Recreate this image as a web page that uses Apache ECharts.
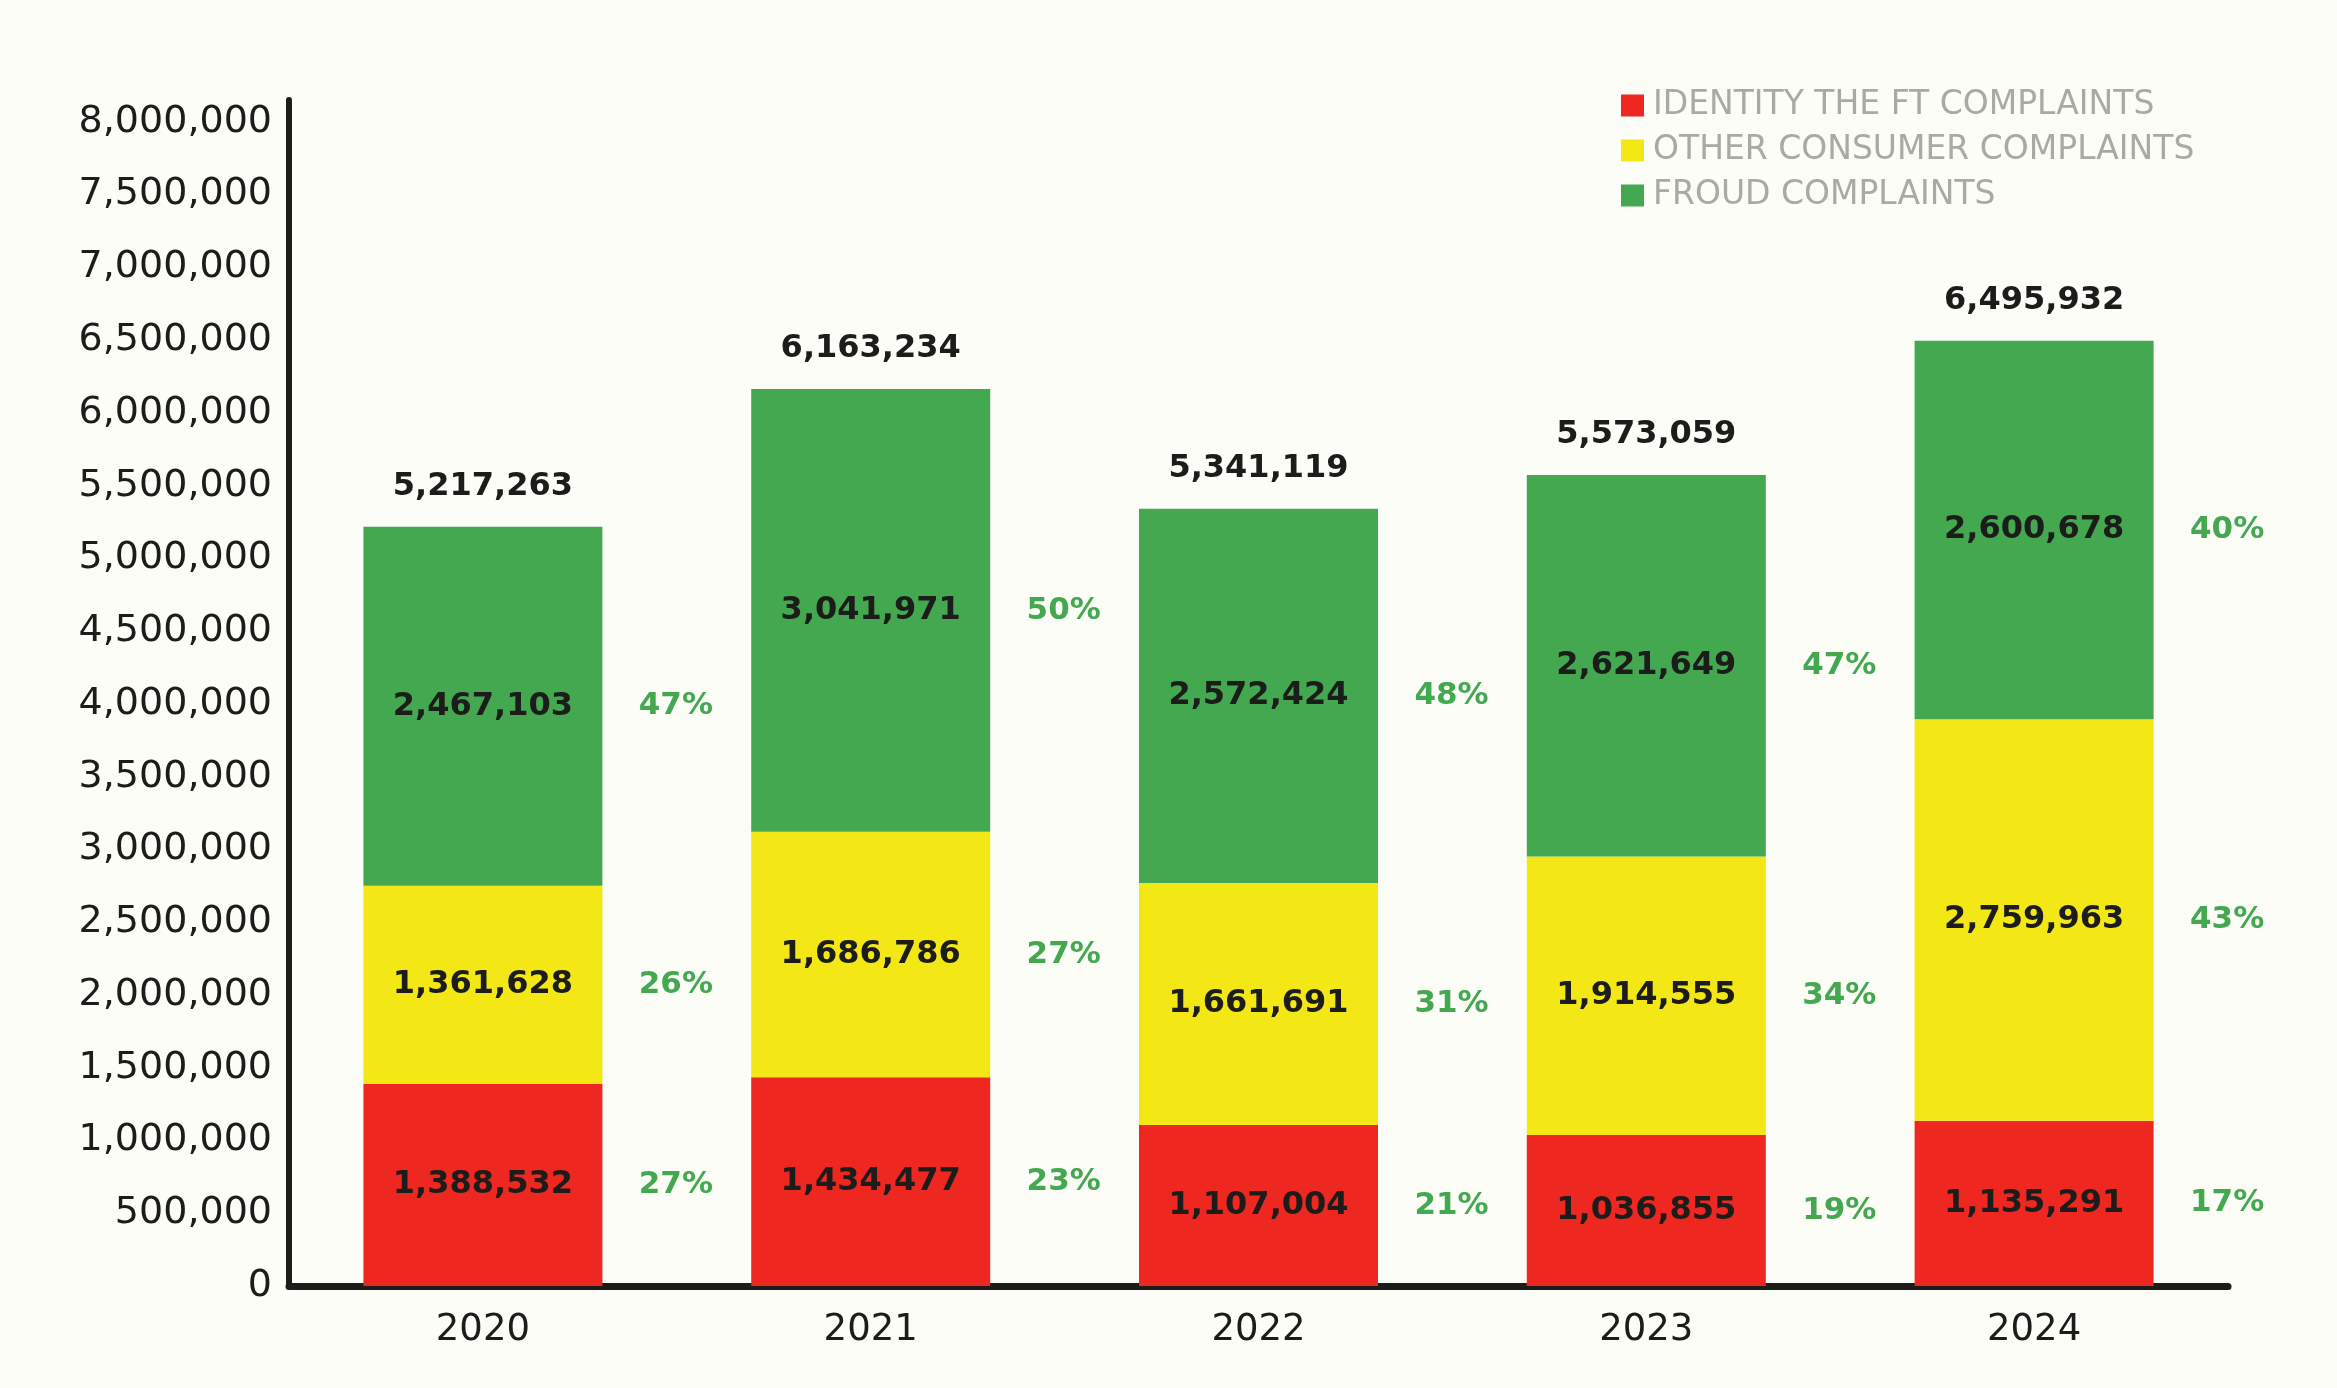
<!DOCTYPE html>
<html>
<head>
<meta charset="utf-8">
<script src="https://cdn.jsdelivr.net/npm/echarts@6/dist/echarts.min.js"></script>
<style>
html,body{margin:0;padding:0;background:#fdfdf8;}
#chart{width:2337px;height:1388px;}
</style>
</head>
<body>
<div id="chart"></div>
<script>
const years = ['2020', '2021', '2022', '2023', '2024'];
const identityTheft = [1388532, 1434477, 1107004, 1036855, 1135291];
const otherConsumer = [1361628, 1686786, 1661691, 1914555, 2759963];
const fraud = [2467103, 3041971, 2572424, 2621649, 2600678];
const totals = [5217263, 6163234, 5341119, 5573059, 6495932];
const identityPct = [27, 23, 21, 19, 17];
const otherPct = [26, 27, 31, 34, 43];
const fraudPct = [47, 50, 48, 47, 40];
const seriesNames = ['IDENTITY THE FT COMPLAINTS', 'OTHER CONSUMER COMPLAINTS', 'FROUD COMPLAINTS'];

const RED = '#ee2721', YELLOW = '#f3e815', GREEN = '#43a84f', INK = '#1c1d1b';
const fmt = v => Number(v).toLocaleString('en-US');

const midId = identityTheft.map((v, i) => [years[i], v / 2]);
const midOther = otherConsumer.map((v, i) => [years[i], identityTheft[i] + v / 2]);
const midFraud = fraud.map((v, i) => [years[i], identityTheft[i] + otherConsumer[i] + v / 2]);

const inLabel = {
  show: true, position: 'inside', color: INK,
  fontFamily: 'DejaVu Sans', fontWeight: 'bold', fontSize: 32,
  formatter: p => fmt(p.value)
};
function pctSeries(points, pcts) {
  return {
    type: 'scatter', data: points, symbolSize: 1, silent: true,
    itemStyle: { color: 'rgba(0,0,0,0)', opacity: 1 },
    label: {
      show: true, position: 'inside', offset: [193, 0], color: GREEN,
      fontFamily: 'DejaVu Sans', fontWeight: 'bold', fontSize: 31,
      textBorderWidth: 0,
      formatter: p => pcts[p.dataIndex] + '%'
    }
  };
}

const chart = echarts.init(document.getElementById('chart'), null, { renderer: 'canvas' });
chart.setOption({
  animation: false,
  backgroundColor: '#fdfdf8',
  legend: {
    data: seriesNames,
    orient: 'vertical', left: 1616, top: 84,
    icon: 'rect', itemWidth: 23, itemHeight: 22, itemGap: 12,
    textStyle: { color: '#a8aaa5', fontFamily: 'DejaVu Sans', fontSize: 33, padding: [0, 0, 0, 4] },
    selectedMode: false
  },
  grid: { left: 289, right: 109, top: 100, bottom: 102, containLabel: false },
  xAxis: {
    type: 'category', data: years,
    axisLine: { lineStyle: { color: INK, width: 7 } },
    axisTick: { show: false },
    axisLabel: { color: INK, fontFamily: 'DejaVu Sans', fontSize: 37, margin: 26 }
  },
  yAxis: {
    type: 'value', min: 0, max: 8150000, interval: 500000,
    axisLine: { show: true, lineStyle: { color: INK, width: 6 } },
    axisTick: { show: false },
    splitLine: { show: false },
    axisLabel: {
      color: INK, fontFamily: 'DejaVu Sans', fontSize: 38, margin: 17, showMaxLabel: false,
      formatter: v => (v > 8000000 ? '' : fmt(v))
    }
  },
  series: [
    { name: seriesNames[0], type: 'bar', stack: 'total', barWidth: 239, data: identityTheft,
      itemStyle: { color: RED }, label: inLabel },
    { name: seriesNames[1], type: 'bar', stack: 'total', barWidth: 239, data: otherConsumer,
      itemStyle: { color: YELLOW }, label: inLabel },
    { name: seriesNames[2], type: 'bar', stack: 'total', barWidth: 239, data: fraud,
      itemStyle: { color: GREEN }, label: inLabel },
    pctSeries(midId, identityPct),
    pctSeries(midOther, otherPct),
    pctSeries(midFraud, fraudPct),
    {
      type: 'scatter', silent: true, symbolSize: 1,
      itemStyle: { color: 'rgba(0,0,0,0)', opacity: 1 },
      data: totals.map((v, i) => [years[i], v]),
      label: {
        show: true, position: 'top', distance: 24, color: INK,
        fontFamily: 'DejaVu Sans', fontWeight: 'bold', fontSize: 32,
        formatter: p => fmt(totals[p.dataIndex])
      }
    }
  ]
});
</script>
</body>
</html>
